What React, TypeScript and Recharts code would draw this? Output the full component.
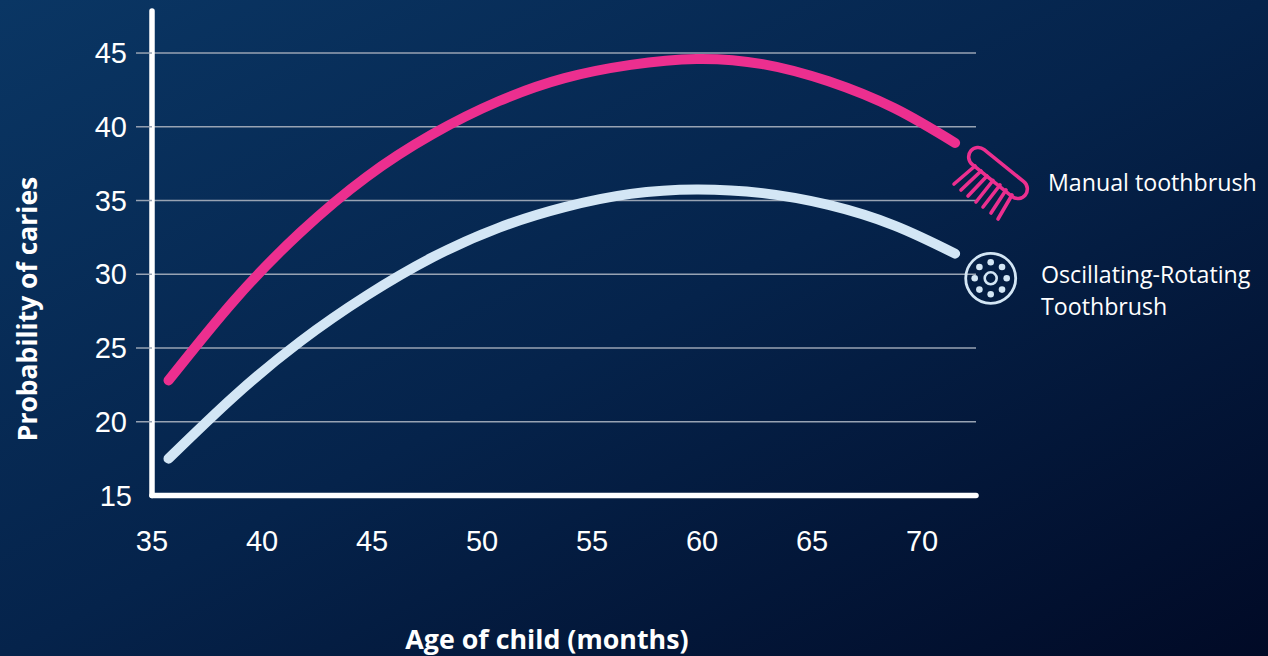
import React from "react"
import { ComposedChart, CartesianGrid, Label, Line, XAxis, YAxis } from "recharts"

// age in months, probability of caries in percent
const ages = [35.75, 38.75, 41.75, 44.75, 47.75, 50.75, 53.75, 56.75, 59.75, 62.75, 65.75, 68.75, 71.5]
const manualValues = [22.8, 28.25, 32.85, 36.6, 39.5, 41.73, 43.3, 44.2, 44.6, 44.25, 43.08, 41.25, 38.9]
const oscillatingValues = [17.5, 21.75, 25.45, 28.55, 31.15, 33.15, 34.55, 35.45, 35.75, 35.5, 34.7, 33.3, 31.4]

const xTicks = [35, 40, 45, 50, 55, 60, 65, 70]
const yTicks = [15, 20, 25, 30, 35, 40, 45]
const gridValues = [20, 25, 30, 35, 40, 45]

const manualSeries = ages.map((age, i) => ({ age, value: manualValues[i] }))
const oscillatingSeries = ages.map((age, i) => ({ age, value: oscillatingValues[i] }))

const PINK = "#ec2f8f"
const PALE = "#d3e6f5"
const GRID = "#98a3b3"
const TICK_FONT = "'Liberation Sans', Arial, sans-serif"
const TEXT_FONT = "'Open Sans', sans-serif"

const bristles = [
  [954, 184, 975, 166],
  [961, 190, 981, 171],
  [968, 196, 987, 176],
  [976, 202, 993, 180.5],
  [983, 207, 1000, 185],
  [991, 213, 1006, 190],
  [998, 219, 1012, 195],
]

const YTick = ({ x, y, payload }: any) => (
  <g>
    {payload.value !== 15 && <line x1={x - 16} x2={x} y1={y} y2={y} stroke={GRID} strokeWidth={1.5} />}
    <text
      x={payload.value === 15 ? x - 20 : x - 25}
      y={y + 10}
      textAnchor="end"
      fill="#fff"
      fontSize={29}
      fontFamily={TICK_FONT}
    >
      {payload.value}
    </text>
  </g>
)

const ToothbrushIcon = () => (
  <g fill="none" stroke={PINK} strokeWidth={3.6} strokeLinecap="round">
    <rect x={963} y={163.5} width={70} height={19} rx={9.5} transform="rotate(39 998 173)" />
    {bristles.map(([x1, y1, x2, y2], i) => (
      <line key={i} x1={x1} y1={y1} x2={x2} y2={y2} />
    ))}
  </g>
)

const BrushHeadIcon = () => {
  const cx = 990.7
  const cy = 278.3
  const dots = [0, 45, 90, 135, 180, 225, 270, 315]
  return (
    <g>
      <circle cx={cx} cy={cy} r={25} fill="none" stroke={PALE} strokeWidth={2.8} />
      <circle cx={cx} cy={cy} r={6} fill="none" stroke={PALE} strokeWidth={2.6} />
      {dots.map((deg) => (
        <circle
          key={deg}
          cx={cx + 16 * Math.cos((deg * Math.PI) / 180)}
          cy={cy + 16 * Math.sin((deg * Math.PI) / 180)}
          r={3.3}
          fill={PALE}
        />
      ))}
    </g>
  )
}

export default function App() {
  return (
    <div
      style={{
        position: "absolute",
        left: 0,
        top: 0,
        width: 1268,
        height: 656,
        overflow: "hidden",
        background: "linear-gradient(to bottom right, #0a3664, #05234b 50%, #010a26)",
      }}
    >
      <ComposedChart width={1268} height={656} margin={{ top: 11, right: 292, bottom: 0, left: 0 }}>
        <CartesianGrid horizontalValues={gridValues} vertical={false} stroke={GRID} strokeWidth={1.5} />
        <XAxis
          type="number"
          dataKey="age"
          domain={[35, 72.45]}
          ticks={xTicks}
          height={160.5}
          interval={0}
          allowDuplicatedCategory={false}
          tickLine={false}
          tickMargin={29}
          axisLine={{ stroke: "#fff", strokeWidth: 5.5, strokeLinecap: "round" }}
          tick={{ fill: "#fff", fontSize: 29, fontFamily: TICK_FONT }}
        >
          <Label
            content={() => (
              <text x={547} y={649} textAnchor="middle" fill="#fff" fontSize={26.8} fontWeight={700} fontFamily={TEXT_FONT}>
                Age of child (months)
              </text>
            )}
          />
        </XAxis>
        <YAxis
          type="number"
          domain={[15, 47.85]}
          ticks={yTicks}
          width={152}
          interval={0}
          tickLine={false}
          tickSize={0}
          tickMargin={0}
          axisLine={{ stroke: "#fff", strokeWidth: 5.5, strokeLinecap: "round" }}
          tick={YTick}
        >
          <Label
            content={() => (
              <text
                x={37}
                y={309}
                transform="rotate(-90 37 309)"
                textAnchor="middle"
                fill="#fff"
                fontSize={26.5}
                fontWeight={700}
                fontFamily={TEXT_FONT}
              >
                Probability of caries
              </text>
            )}
          />
        </YAxis>
        <Line
          data={manualSeries}
          dataKey="value"
          name="Manual toothbrush"
          type="natural"
          stroke={PINK}
          strokeWidth={10}
          strokeLinecap="round"
          dot={false}
          isAnimationActive={false}
        />
        <Line
          data={oscillatingSeries}
          dataKey="value"
          name="Oscillating-Rotating Toothbrush"
          type="natural"
          stroke={PALE}
          strokeWidth={10}
          strokeLinecap="round"
          dot={false}
          isAnimationActive={false}
        />
      </ComposedChart>
      {/* series key with the brush icons */}
      <svg width={1268} height={656} style={{ position: "absolute", left: 0, top: 0, pointerEvents: "none" }}>
        <ToothbrushIcon />
        <BrushHeadIcon />
        <g fill="#fff" fontSize={23.2} fontFamily={TEXT_FONT}>
          <text x={1048} y={191}>Manual toothbrush</text>
          <text x={1041} y={283}>Oscillating-Rotating</text>
          <text x={1041} y={315}>Toothbrush</text>
        </g>
      </svg>
    </div>
  )
}
